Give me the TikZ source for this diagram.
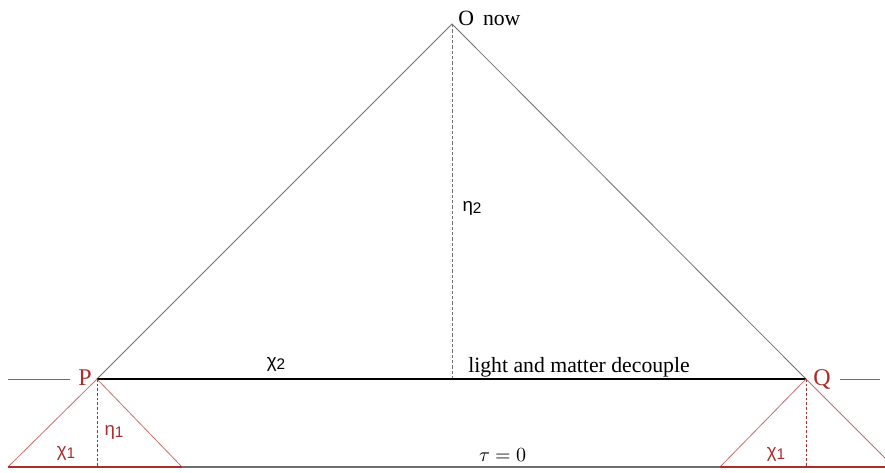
\documentclass[tikz,border=0pt]{standalone}
\usepackage{fontspec}
\setmainfont{Liberation Serif}
\newfontfamily\greekfont{Liberation Sans}
\usepackage{unicode-math}
\definecolor{dred}{RGB}{170,45,45}
\definecolor{lred}{RGB}{200,110,110}
\definecolor{lgray}{RGB}{110,110,110}
\newcommand{\gsym}[2]{{\greekfont #1\raisebox{-0.12em}{\fontsize{11.5pt}{12pt}\selectfont #2}}}
\begin{document}
\begin{tikzpicture}[x=0.75pt,y=-0.75pt,
  cone/.style={draw=lgray,line width=0.6pt},
  redcone/.style={draw=lred,line width=0.6pt},
  redbase/.style={draw=dred,line width=1.3pt},
  reddash/.style={draw=dred,dashed,dash pattern=on 2pt off 1.5pt,line width=0.6pt},
  graydash/.style={draw=lgray,dashed,dash pattern=on 2.5pt off 1.5pt,line width=0.7pt},
  lbl/.style={inner sep=0pt,font=\fontsize{16.3pt}{18pt}\selectfont},
  redlbl/.style={inner sep=0pt,text=dred,font=\fontsize{18pt}{20pt}\selectfont},
  glbl/.style={inner sep=0pt,font=\fontsize{14pt}{16pt}\selectfont},
  rglbl/.style={inner sep=0pt,text=dred,font=\fontsize{14pt}{16pt}\selectfont}]
\useasboundingbox (0,0) rectangle (885,472);
% key points
\coordinate (O) at (452,24);
\coordinate (P) at (97,379);
\coordinate (Q) at (806,379);
\coordinate (Ob) at (452,379);
\coordinate (Lstart) at (8,379);
\coordinate (Lend) at (70,379);
\coordinate (Rstart) at (840,379);
\coordinate (Rend) at (880,379);
\coordinate (PL) at (8,467);
\coordinate (PR) at (182,467);
\coordinate (Pb) at (97,467);
\coordinate (QL) at (720,467);
\coordinate (QR) at (885,467);
\coordinate (QRe) at (885,458);
\coordinate (Qb) at (806,467);
% main cone
\draw[cone] (P) -- (O) -- (Q);
\draw[graydash] (O) -- (Ob);
\draw[black,line width=1.3pt] (P) -- (Q);
\draw[lgray,line width=0.6pt] (Lstart) -- (Lend);
\draw[lgray,line width=0.6pt] (Rstart) -- (Rend);
% bottom line
\draw[lgray,line width=1.3pt] (PR) -- (QL);
% left small cone
\draw[redcone] (PL) -- (P) -- (PR);
\draw[redbase] (PL) -- (PR);
\draw[reddash] (P) -- (Pb);
% right small cone
\draw[redcone] (QL) -- (Q) -- (QRe);
\draw[redbase] (QL) -- (QR);
\draw[reddash] (Q) -- (Qb);
% labels
\node[lbl,anchor=base west] (Olbl) at (458,25) {O\, now};
\node[lbl,anchor=base west] (dec) at (468,372) {light and matter decouple};
\node[redlbl] (Plbl) at (85,378) {P};
\node[redlbl] (Qlbl) at (822,379) {Q};
\node[glbl] (eta2) at (472,208) {\gsym{η}{2}};
\node[glbl] (chi2) at (276,364) {\gsym{χ}{2}};
\node[rglbl] (eta1) at (114,432) {\gsym{η}{1}};
\node[rglbl] (chi1a) at (66,453) {\gsym{χ}{1}};
\node[rglbl] (chi1b) at (776,454) {\gsym{χ}{1}};
\node[inner sep=0pt,font=\fontsize{15pt}{17pt}\selectfont] (tau) at (503,455) {$\tau = 0$};
\end{tikzpicture}
\end{document}
